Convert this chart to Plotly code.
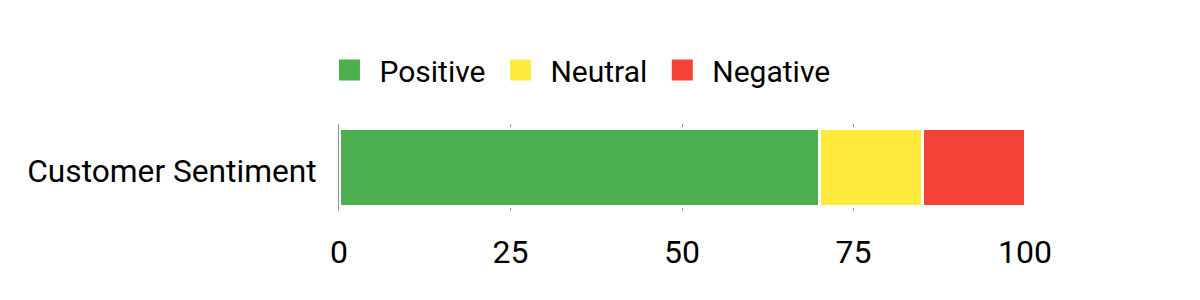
import plotly.graph_objects as go

categories = ["Customer Sentiment"]
series_names = ["Positive", "Neutral", "Negative"]
positive = [70]
neutral = [15]
negative = [15]
colors = ["#4caf50", "#ffeb3b", "#f44336"]
tick_values = [0, 25, 50, 75, 100]
tick_labels = ["0", "25", "50", "75", "100"]

fig = go.Figure()
for name, vals, col in zip(series_names, [positive, neutral, negative], colors):
    fig.add_trace(go.Bar(
        y=categories, x=vals, name=name, orientation="h",
        marker=dict(color=col, line=dict(color="white", width=3)),
        showlegend=False,
    ))
    # legend proxy with larger square swatch
    fig.add_trace(go.Scatter(
        x=[None], y=[None], mode="markers", name=name,
        marker=dict(symbol="square", size=16, color=col,
                    line=dict(color=col, width=5)),
        showlegend=True,
    ))

fig.update_layout(
    width=1200, height=300,
    margin=dict(l=339, r=175, t=124, b=89),
    barmode="stack", bargap=0.1,
    plot_bgcolor="white", paper_bgcolor="white",
    font=dict(family="Roboto", size=30, color="black"),
    legend=dict(orientation="h", traceorder="normal",
                x=-0.0285, xanchor="left", y=1.621, yanchor="middle",
                font=dict(size=30, color="black"), itemwidth=50),
    xaxis=dict(range=[0, 100], tickvals=tick_values, ticktext=tick_labels,
               showgrid=True, gridcolor="#959595", gridwidth=1,
               zeroline=False, showline=False, ticks="",
               tickfont=dict(size=32, color="black"), ticklabelstandoff=19,
               fixedrange=True),
    yaxis=dict(showgrid=False, zeroline=False, showline=True,
               linecolor="#959595", linewidth=1, ticks="",
               ticklabelstandoff=15, ticklabelshift=3,
               tickfont=dict(size=31.7, color="black")),
)

fig.write_html("out.html")
